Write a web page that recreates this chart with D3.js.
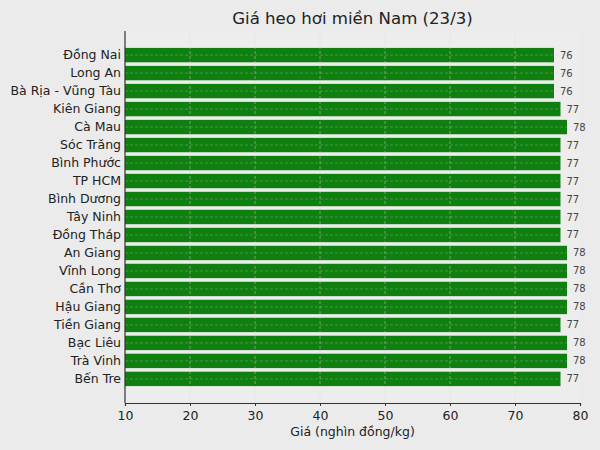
<!DOCTYPE html>
<html>
<head>
<meta charset="utf-8">
<script src="https://cdn.jsdelivr.net/npm/d3@7"></script>
<style>
  body { margin: 0; background: #ebebeb; }
  svg { display: block; font-family: "DejaVu Sans", sans-serif; }
</style>
</head>
<body>
<svg id="chart" width="600" height="450"></svg>
<script>
const provinces = ['Đồng Nai', 'Long An', 'Bà Rịa - Vũng Tàu', 'Kiên Giang', 'Cà Mau', 'Sóc Trăng',
    'Bình Phước', 'TP HCM', 'Bình Dương', 'Tây Ninh', 'Đồng Tháp', 'An Giang', 'Vĩnh Long',
    'Cần Thơ', 'Hậu Giang', 'Tiền Giang', 'Bạc Liêu', 'Trà Vinh', 'Bến Tre'];
const prices = [76, 76, 76, 77, 78, 77, 77, 77, 77, 77, 77, 78, 78, 78, 78, 77, 78, 78, 77];
const xTicks = [10, 20, 30, 40, 50, 60, 70, 80];

const W = 600, H = 450;
const M = { top: 31, right: 20, bottom: 47, left: 125 };
const innerW = W - M.left - M.right;
const innerH = H - M.top - M.bottom;

const svg = d3.select('#chart');
svg.append('rect').attr('width', W).attr('height', H).attr('fill', '#ebebeb');

const g = svg.append('g').attr('transform', 'translate(' + M.left + ',' + M.top + ')');

const x = d3.scaleLinear().domain([10, 80]).range([0, innerW]);

// matplotlib-like categorical positions with 5% margins
const n = provinces.length;
const lo = -0.4 - 0.05 * (n - 0.2), hi = n - 1 + 0.4 + 0.05 * (n - 0.2);
const y = d3.scaleLinear().domain([lo, hi]).range([0, innerH]);
const bh = y(0.8) - y(0);

g.append('rect').attr('width', innerW).attr('height', innerH).attr('fill', '#ededed');

g.append('defs').append('clipPath').attr('id', 'clip')
    .append('rect').attr('width', innerW).attr('height', innerH);

const data = provinces.map(function (p, i) { return { name: p, value: prices[i], i: i }; });

g.append('g').attr('clip-path', 'url(#clip)')
    .selectAll('rect.bar')
    .data(data)
    .enter().append('rect')
    .attr('class', 'bar')
    .attr('x', x(0))
    .attr('y', function (d) { return y(d.i - 0.4); })
    .attr('width', function (d) { return x(d.value) - x(0); })
    .attr('height', bh)
    .attr('fill', '#0f7f0f');

// grid drawn above bars
const grid = g.append('g');
grid.selectAll('line.vg')
    .data(xTicks.slice(1, -1))
    .enter().append('line')
    .attr('x1', function (d) { return x(d); }).attr('x2', function (d) { return x(d); })
    .attr('y1', 0).attr('y2', innerH)
    .attr('stroke', '#d8d8d8').attr('stroke-opacity', 0.6)
    .attr('stroke-width', 0.8).attr('stroke-dasharray', '3,2');
grid.selectAll('line.hg')
    .data(data)
    .enter().append('line')
    .attr('x1', 0).attr('x2', innerW)
    .attr('y1', function (d) { return y(d.i); }).attr('y2', function (d) { return y(d.i); })
    .attr('stroke', '#d8d8d8').attr('stroke-opacity', 0.35)
    .attr('stroke-width', 0.8).attr('stroke-dasharray', '3,2');

// value labels
g.selectAll('text.val')
    .data(data)
    .enter().append('text')
    .attr('class', 'val')
    .attr('x', function (d) { return x(d.value) + 6; })
    .attr('y', function (d) { return y(d.i); })
    .attr('dy', '0.35em')
    .attr('font-size', 10)
    .attr('fill', '#444')
    .text(function (d) { return d.value; });

// y labels
g.selectAll('text.cat')
    .data(data)
    .enter().append('text')
    .attr('class', 'cat')
    .attr('x', -4)
    .attr('y', function (d) { return y(d.i); })
    .attr('dy', '0.35em')
    .attr('text-anchor', 'end')
    .attr('font-size', 12.5)
    .attr('fill', '#222')
    .text(function (d) { return d.name; });

// x axis
const xAxis = g.append('g')
    .attr('transform', 'translate(0,' + innerH + ')')
    .call(d3.axisBottom(x).tickValues(xTicks).tickSize(3).tickPadding(5));
xAxis.select('.domain').attr('stroke', '#333').attr('stroke-width', 1.2);
xAxis.selectAll('.tick line').attr('stroke', '#333');
xAxis.selectAll('.tick text').attr('font-size', 12.5).attr('fill', '#222')
    .attr('font-family', '"DejaVu Sans", sans-serif');

g.append('line').attr('x1', 0).attr('x2', 0).attr('y1', 0).attr('y2', innerH)
    .attr('stroke', '#333').attr('stroke-width', 1.2);

svg.append('text')
    .attr('x', M.left + innerW / 2).attr('y', H - 14)
    .attr('text-anchor', 'middle').attr('font-size', 12.5).attr('fill', '#222')
    .text('Giá (nghìn đồng/kg)');

svg.append('text')
    .attr('x', M.left + innerW / 2).attr('y', 24)
    .attr('text-anchor', 'middle').attr('font-size', 16.6).attr('fill', '#222')
    .text('Giá heo hơi miền Nam (23/3)');
</script>
</body>
</html>
